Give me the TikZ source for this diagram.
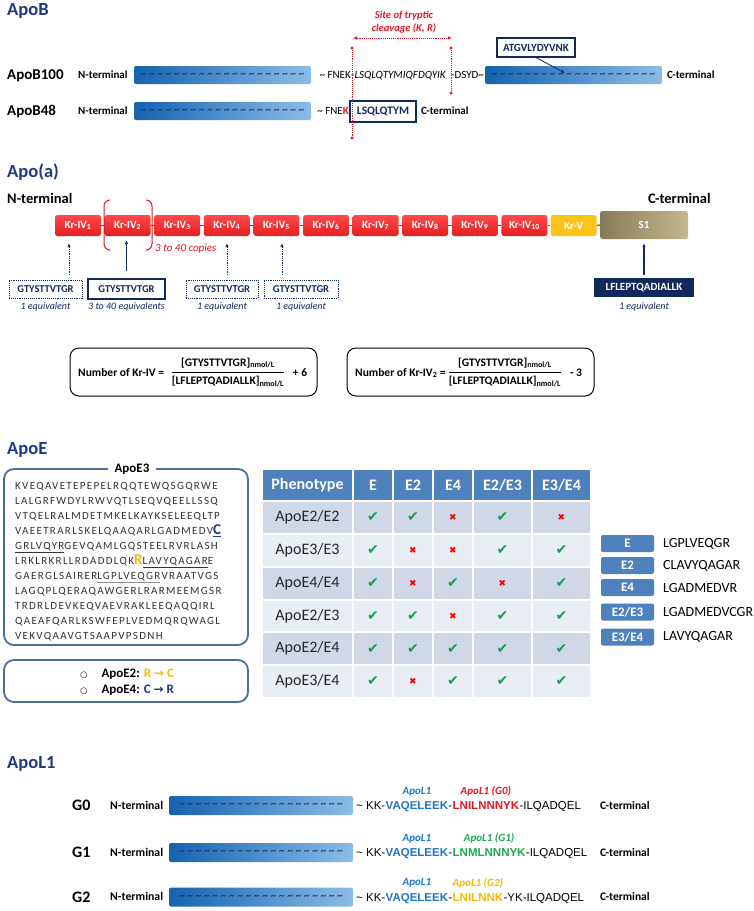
\documentclass[tikz,border=0pt]{standalone}
\usepackage{fontspec}
\setmainfont{Carlito}
\newfontfamily\seqfont[LetterSpace=12]{Carlito}
\newfontfamily\dejavu{DejaVu Sans}
\newfontfamily\arialfont{Liberation Sans}
\usepackage{tikz}
\usetikzlibrary{positioning,matrix,arrows.meta}

\definecolor{titleblue}{HTML}{1F3A80}
\definecolor{navy}{HTML}{12295E}
\definecolor{cutred}{HTML}{E8141E}
\definecolor{barL}{HTML}{1462B0}
\definecolor{barR}{HTML}{8CBCE6}
\definecolor{krtop}{HTML}{FF4A4A}
\definecolor{krbot}{HTML}{E41E22}
\definecolor{krv}{HTML}{FFC21A}
\definecolor{soneL}{HTML}{857B58}
\definecolor{soneR}{HTML}{C2B88F}
\definecolor{steel}{HTML}{4C6E9E}
\definecolor{hdrblue}{HTML}{4F81BD}
\definecolor{rowdark}{HTML}{D0D8E8}
\definecolor{rowlight}{HTML}{E9EDF4}
\definecolor{okgreen}{HTML}{12A050}
\definecolor{ygold}{HTML}{F8B800}
\definecolor{lblue}{HTML}{1E78C8}
\definecolor{lgreen}{HTML}{1DAA50}

\newcommand{\fsz}[1]{\fontsize{#1}{#1}\selectfont}
\newcommand{\tildes}{\foreach \tn in {1,...,19}{\textasciitilde\ }\textasciitilde}
\newcommand{\yesmark}{{\dejavu\fsz{14}\color{okgreen}✔}}
\newcommand{\nomark}{{\dejavu\fsz{9}\color{red}✖}}
\newcommand{\bigC}{{\fsz{15}\bfseries\color{titleblue}\underline{C}}}
\newcommand{\bigR}{{\fsz{15}\bfseries\color{ygold}R}}
\newcommand{\grayul}[1]{\rlap{\color{black!45}\underline{\phantom{#1}}}#1}
\newcommand{\bul}{{\dejavu\mdseries\fsz{8.5}○}}
\newcommand{\arr}{{\dejavu\bfseries\fsz{12}→}}
\newcommand{\fracpep}{\begin{tabular}{@{}c@{}}{[GTYSTTVTGR]}\textsubscript{nmol/L}\\[2pt]\hline\rule{0pt}{13pt}{[LFLEPTQADIALLK]}\textsubscript{nmol/L}\end{tabular}}

\tikzset{
  sectitle/.style={anchor=base west, inner sep=0pt, text=titleblue, font=\bfseries\fsz{18.5}},
  rowlbl/.style={anchor=base west, inner sep=0pt, font=\bfseries\fsz{15}},
  termlbl/.style={anchor=base west, inner sep=0pt, font=\bfseries\fsz{11}},
  protbar/.style={rounded corners=2pt, left color=barL, right color=barR, inner sep=0pt,
    minimum height=18pt, text=navy, font=\fsz{11.5}},
  seqtxt/.style={inner sep=0pt, font=\fsz{11}},
  pepbox/.style={draw=navy, line width=1.1pt, fill=white, text=navy, inner sep=0pt, font=\bfseries\fsz{11}},
  cutline/.style={cutred, densely dotted, line width=0.9pt},
  cutlbl/.style={align=center, inner sep=0pt, text=cutred, font=\bfseries\itshape\fontsize{10.5}{13}\selectfont},
  kringle/.style={rounded corners=2.5pt, top color=krtop, bottom color=krbot, minimum width=46pt,
    minimum height=21pt, inner sep=0pt, text=white, font=\bfseries\fsz{11}},
  krlink/.style={krbot, line width=1.3pt},
  copies/.style={anchor=base west, inner sep=0pt, text=cutred, font=\itshape\fsz{11}},
  pep/.style={draw=navy, densely dotted, line width=0.9pt, fill=white, text=navy, minimum height=18pt,
    inner sep=0pt, font=\bfseries\fsz{10.5}},
  equiv/.style={inner sep=0pt, text=navy, font=\itshape\fsz{10}},
  uparrow/.style={-{Latex[length=4pt,width=3.5pt]}, navy, line width=0.8pt},
  frmbox/.style={draw, rounded corners=9pt, line width=1pt, minimum width=247pt, minimum height=48pt},
  frm/.style={inner sep=0pt, font=\bfseries\fsz{11.5}},
  seqbox/.style={draw=steel, line width=1.8pt, rounded corners=10pt, minimum width=244pt, minimum height=176pt},
  legbox/.style={fill=hdrblue, rounded corners=2pt, minimum width=53pt, minimum height=17pt, inner sep=0pt,
    text=white, font=\bfseries\fsz{13}},
  legtxt/.style={anchor=west, inner sep=0pt, font=\fsz{14}},
  l1txt/.style={inner sep=0pt, font=\arialfont\fsz{11.5}},
  l1bold/.style={inner sep=0pt, font=\arialfont\bfseries\fsz{11.5}},
  l1lbl/.style={inner sep=0pt, font=\bfseries\itshape\fsz{11}}
}

\begin{document}
\begin{tikzpicture}[x=1pt,y=-1pt]
\useasboundingbox (0,0) rectangle (754,911);
\fill[white] (0,0) rectangle (754,911);

% ApoB
\node[sectitle] (tapob) at (7,15) {ApoB};

\node[rowlbl] (lb100) at (7,79.8) {ApoB100};
\node[termlbl] (nt100) at (78,78.5) {N-terminal};
\node[protbar, minimum width=177pt] (b100n) at (222.5,75) {\tildes};
\node[seqtxt, anchor=base east] (fnek) at (351,78.5) {\textasciitilde\ FNEK};
\node[seqtxt, anchor=base west] (lsq) at (351,78.5) {-\textit{LSQLQTYMIQFDQYIK}};
\node[seqtxt, anchor=base west] (dsyd) at (451,78.5) {-DSYD\textasciitilde};
\node[protbar, minimum width=177pt] (b100c) at (573.5,75) {\tildes};
\node[termlbl] (ct100) at (667,78.5) {C-terminal};

\node[pepbox, minimum width=78pt, minimum height=19pt] (atg) at (536,47.5) {ATGVLYDYVNK};
\coordinate (atgtip) at (565,73);
\draw[uparrow] (atg.south) -- (atgtip);

\node[rowlbl] (lb48) at (7,115.8) {ApoB48};
\node[termlbl] (nt48) at (78,114.5) {N-terminal};
\node[protbar, minimum width=177pt] (b48n) at (222.5,111) {\tildes};
\node[seqtxt, anchor=base east] (fnek48) at (349,114.5) {\textasciitilde\ FNE\textcolor{cutred}{\textbf{K}}};
\node[pepbox, minimum width=66pt, minimum height=21pt, font=\bfseries\fsz{11.5}] (lsq48) at (383,111.5) {LSQLQTYM};
\node[termlbl] (ct48) at (421,114.5) {C-terminal};

% tryptic cleavage site
\coordinate (cutLt) at (352,48);
\coordinate (cutLb) at (352,138);
\coordinate (cutRt) at (451,48);
\coordinate (cutRb) at (451,93);
\draw[cutline] (cutLt) -- (cutLb);
\draw[cutline] (cutRt) -- (cutRb);
\foreach \cp in {cutLt,cutLb,cutRt,cutRb}
  \fill[cutred] (\cp) circle[radius=1.7pt];
\coordinate (arL) at (353,38);
\coordinate (arR) at (452,38);
\draw[cutline, {Latex[length=4pt,width=3.5pt]}-{Latex[length=4pt,width=3.5pt]}] (arL) -- (arR);
\node[cutlbl] (cutnote) at (404,22.5) {Site of tryptic\\cleavage (K, R)};

% Apo(a)
\node[sectitle] (tapoa) at (7,177) {Apo(a)};
\node[termlbl, font=\bfseries\fsz{14.5}] (nta) at (7,203.7) {N-terminal};
\node[termlbl, font=\bfseries\fsz{14.5}] (cta) at (648,203.7) {C-terminal};

\foreach \i in {1,...,10}
  \node[kringle] (k\i) at ({78+(\i-1)*49.6},225.5) {Kr-IV\textsubscript{\i}};
\node[kringle, top color=krv, bottom color=krv] (kv) at (573.6,225.5) {Kr-V};
\node[kringle, minimum width=88pt, minimum height=28pt, left color=soneL, right color=soneR] (s1) at (644,225) {S1};
\foreach \i [count=\j from 2] in {1,...,9}
  \draw[krlink] (k\i.east) -- (k\j.west);
\draw[krlink] (k10.east) -- (kv.west);
\draw[krlink] (kv.east) -- (s1.west);

\draw[cutred, line width=1pt, rounded corners=6pt] (109,200) -- (104,200) -- (104,250) -- (109,250);
\draw[cutred, line width=1pt, rounded corners=6pt] (147,200) -- (152,200) -- (152,250) -- (147,250);
\node[copies] (copies) at (155,251) {3 to 40 copies};

\node[pep, minimum width=73pt] (p1) at (45.5,289) {GTYSTTVTGR};
\node[pep, solid, line width=1.2pt, minimum width=77pt, minimum height=20pt] (p2) at (126.5,289) {GTYSTTVTGR};
\node[pep, minimum width=72pt] (p3) at (222,289) {GTYSTTVTGR};
\node[pep, minimum width=74pt] (p4) at (301,289) {GTYSTTVTGR};
\node[pep, solid, draw=none, fill=navy, text=white, minimum width=100pt, minimum height=19pt, font=\bfseries\fsz{11}] (lf) at (644,287.5) {LFLEPTQADIALLK};

\coordinate (a1) at (69,275);
\coordinate (a3) at (227,275);
\coordinate (a4) at (282,275);
\draw[uparrow, densely dotted, shorten >=7pt] (a1) -- (a1 |- k1.south);
\draw[uparrow, densely dotted, shorten >=7pt] (a3) -- (a3 |- k4.south);
\draw[uparrow, densely dotted, shorten >=7pt] (a4) -- (a4 |- k5.south);
\draw[uparrow, line width=1.1pt, shorten <=7pt, shorten >=4pt] (p2.north) -- (p2.north |- k2.south);
\draw[uparrow, line width=1.1pt, shorten <=3pt, shorten >=4pt] (lf.north) -- (s1.south);

\node[equiv, below=4pt of p1] (eq1) {1 equivalent};
\node[equiv, below=3pt of p2] (eq2) {3 to 40 equivalents};
\node[equiv, below=4pt of p3] (eq3) {1 equivalent};
\node[equiv, below=4pt of p4] (eq4) {1 equivalent};
\node[equiv, below=5pt of lf] (eq5) {1 equivalent};

% formulas
\node[frmbox] (fb1) at (193.5,372) {};
\node[frm, anchor=west] (fl1) at (78,373) {Number of Kr-IV =};
\node[frm] (fr1) at (228,373) {\fracpep};
\node[frm] (fp1) at (300,373) {+ 6};
\node[frmbox] (fb2) at (470.5,372) {};
\node[frm, anchor=west] (fl2) at (355,373) {Number of Kr-IV\textsubscript{2} =};
\node[frm] (fr2) at (505,373) {\fracpep};
\node[frm] (fm2) at (576,373) {- 3};

% ApoE
\node[sectitle] (tapoe) at (7,454) {ApoE};
\node[seqbox] (e3box) at (126,557) {};
\node[fill=white, inner xsep=7pt, inner ysep=1pt, font=\bfseries\fsz{13}] (e3lbl) at (132,469) {ApoE3};
\node[anchor=north west, inner sep=0pt, align=left, text=black!80, font=\seqfont\fontsize{11}{15}\selectfont] (e3seq) at (15,482) {%
KVEQAVETEPEPELRQQTEWQSGQRWE\\
LALGRFWDYLRWVQTLSEQVQEELLSSQ\\
VTQELRALMDETMKELKAYKSELEEQLTP\\
VAEETRARLSKELQAAQARLGADMEDV\bigC\\
\underline{GRLVQYR}GEVQAMLGQSTEELRVRLASH\\
LRKLRKRLLRDADDLQK\bigR\underline{LAVYQAGAR}E\\
GAERGLSAIRER\grayul{LGPLVEQGR}VRAATVGS\\
LAGQPLQERAQAWGERLRARMEEMGSR\\
TRDRLDEVKEQVAEVRAKLEEQAQQIRL\\
QAEAFQARLKSWFEPLVEDMQRQWAGL\\
VEKVQAAVGTSAAPVPSDNH};

\node[seqbox, minimum height=42pt] (mubox) at (126,681) {};
\node[align=left, inner sep=0pt, font=\bfseries\fontsize{13}{16.5}\selectfont] (mutxt) at (127,682)
  {\bul\hspace{14pt}ApoE2: \textcolor{ygold}{R \arr\ C}\\ \bul\hspace{14pt}ApoE4: \textcolor{titleblue}{C \arr\ R}};

\matrix (tbl) [matrix of nodes, column sep=2pt, row sep=2pt,
  nodes={anchor=center, inner sep=0pt, minimum height=30.8pt, text=black!85, font=\fsz{16}},
  column 1/.style={nodes={minimum width=89pt}},
  column 2/.style={nodes={minimum width=38pt}},
  column 3/.style={nodes={minimum width=38pt}},
  column 4/.style={nodes={minimum width=38pt}},
  column 5/.style={nodes={minimum width=57pt}},
  column 6/.style={nodes={minimum width=57pt}},
  row 1/.style={nodes={fill=hdrblue, text=white, font=\bfseries\fsz{16}, minimum height=30pt}},
  row 2/.style={nodes={fill=rowdark}},
  row 3/.style={nodes={fill=rowlight}},
  row 4/.style={nodes={fill=rowdark}},
  row 5/.style={nodes={fill=rowlight}},
  row 6/.style={nodes={fill=rowdark}},
  row 7/.style={nodes={fill=rowlight}}] at (426.5,583.5) {
  Phenotype & E & E2 & E4 & E2/E3 & E3/E4 \\
  ApoE2/E2 & \yesmark & \yesmark & \nomark & \yesmark & \nomark \\
  ApoE3/E3 & \yesmark & \nomark & \nomark & \yesmark & \yesmark \\
  ApoE4/E4 & \yesmark & \nomark & \yesmark & \nomark & \yesmark \\
  ApoE2/E3 & \yesmark & \yesmark & \nomark & \yesmark & \yesmark \\
  ApoE2/E4 & \yesmark & \yesmark & \yesmark & \yesmark & \yesmark \\
  ApoE3/E4 & \yesmark & \nomark & \yesmark & \yesmark & \yesmark \\
};

\node[legbox] (lgE) at (627.5,543.5) {E};
\node[legtxt] (lgEp) at (663,543.5) {LGPLVEQGR};
\node[legbox] (lgEtwo) at (627.5,565.5) {E2};
\node[legtxt] (lgEtwop) at (663,565.5) {CLAVYQAGAR};
\node[legbox] (lgEfour) at (627.5,587.5) {E4};
\node[legtxt] (lgEfourp) at (663,587.5) {LGADMEDVR};
\node[legbox] (lgEtt) at (627.5,612) {E2/E3};
\node[legtxt] (lgEttp) at (663,612) {LGADMEDVCGR};
\node[legbox] (lgEtf) at (627.5,637) {E3/E4};
\node[legtxt] (lgEtfp) at (663,637) {LAVYQAGAR};

% ApoL1
\node[sectitle] (tapol) at (7,768) {ApoL1};
\foreach \gl/\yc/\vseq/\vcol/\vrest [count=\n] in
    {G0/805.5/LNILNNNYK/cutred/-ILQADQEL, G1/852.5/LNMLNNNYK/lgreen/-ILQADQEL, G2/897/LNILNNK/ygold/-YK-ILQADQEL} {
  \node[rowlbl, font=\bfseries\fsz{16}] (lg\n) at (72,\yc+5.2) {\gl};
  \node[termlbl, font=\bfseries\fsz{11.8}] (lnt\n) at (110,\yc+3.8) {N-terminal};
  \node[protbar, minimum width=184pt, minimum height=19pt] (lbar\n) at (261,\yc) {\tildes};
  \node[l1txt, anchor=base west] (lkk\n) at (356,\yc+4.1) {\textasciitilde\ KK-};
  \node[l1bold, text=lblue, base right=0pt of lkk\n] (lvaq\n) {VAQELEEK};
  \node[l1txt, base right=0pt of lvaq\n] (ldash\n) {-};
  \node[l1bold, text=\vcol, base right=0pt of ldash\n] (lvar\n) {\vseq};
  \node[l1txt, base right=0pt of lvar\n] (lrest\n) {\vrest};
  \node[termlbl, font=\bfseries\fsz{11.5}] (lct\n) at (600,\yc+3.7) {C-terminal};
  \node[l1lbl, text=lblue, above=5pt of lvaq\n] (lab\n) {ApoL1};
  \node[l1lbl, text=\vcol, above=5pt of lvar\n] (labv\n) {ApoL1 (\gl)};
}
\end{tikzpicture}
\end{document}
